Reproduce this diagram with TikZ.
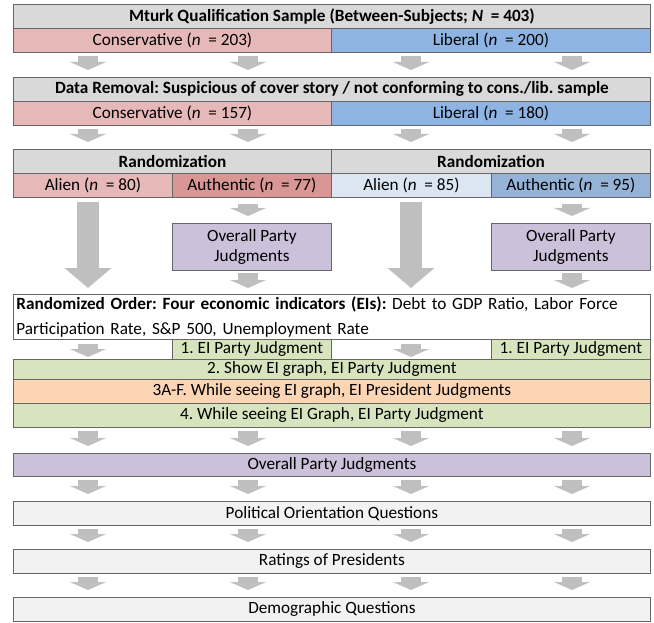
\documentclass[tikz,border=0pt]{standalone}
\usepackage{fontspec}
\setmainfont{Carlito}
\usetikzlibrary{arrows.meta}
\frenchspacing

\definecolor{hdrgrey}{HTML}{D9D9D9}
\definecolor{conspink}{HTML}{E6B9B8}
\definecolor{authpink}{HTML}{D99694}
\definecolor{libblue}{HTML}{8EB4E3}
\definecolor{alienblue}{HTML}{DCE6F2}
\definecolor{authblue}{HTML}{95B3D7}
\definecolor{judgpurple}{HTML}{CCC1DA}
\definecolor{eigreen}{HTML}{D7E4BD}
\definecolor{presorange}{HTML}{FCD5B5}
\definecolor{questgrey}{HTML}{F2F2F2}
\definecolor{arrowgrey}{HTML}{BFBFBF}

\tikzset{
    cell/.style={draw=black!60, line width=0.8pt, inner sep=0pt, anchor=north west,
        font=\fontsize{17.2}{20.5}\selectfont},
    blockarrow/.style={draw=arrowgrey, line width=20pt, -{Triangle[width=36pt,length=8pt]},
        shorten <=3pt, shorten >=7pt},
    longarrow/.style={draw=arrowgrey, line width=22pt, -{Triangle[width=46pt,length=20pt]},
        shorten <=4pt, shorten >=6pt}
}

\begin{document}
\begin{tikzpicture}[x=1pt, y=-1pt]
\useasboundingbox (0,0) rectangle (654,623);

% arrow columns
\coordinate (c1) at (88,0);
\coordinate (c2) at (248,0);
\coordinate (c3) at (411,0);
\coordinate (c4) at (572,0);

% sample
\node[cell, fill=hdrgrey, minimum width=637, minimum height=24] (mturk) at (13,4)
    {\textbf{Mturk Qualification Sample (Between-Subjects; \textit{N}~ = 403)}};
\node[cell, fill=conspink, minimum width=318, minimum height=24] (cons1) at (13,28)
    {Conservative (\textit{n}~ = 203)};
\node[cell, fill=libblue, minimum width=319, minimum height=24] (lib1) at (331,28)
    {Liberal (\textit{n}~ = 200)};

% data removal
\node[cell, fill=hdrgrey, minimum width=637, minimum height=24] (removal) at (13,77)
    {\textbf{Data Removal: Suspicious of cover story / not conforming to cons./lib. sample}};
\node[cell, fill=conspink, minimum width=318, minimum height=24] (cons2) at (13,101)
    {Conservative (\textit{n}~ = 157)};
\node[cell, fill=libblue, minimum width=319, minimum height=24] (lib2) at (331,101)
    {Liberal (\textit{n}~ = 180)};

% randomization
\node[cell, fill=hdrgrey, minimum width=318, minimum height=24] (randC) at (13,149)
    {\textbf{Randomization}};
\node[cell, fill=hdrgrey, minimum width=319, minimum height=24] (randL) at (331,149)
    {\textbf{Randomization}};
\node[cell, fill=conspink, minimum width=159, minimum height=24] (alienC) at (13,173)
    {Alien (\textit{n}~ = 80)};
\node[cell, fill=authpink, minimum width=159, minimum height=24] (authC) at (172,173)
    {Authentic (\textit{n}~ = 77)};
\node[cell, fill=alienblue, minimum width=160, minimum height=24] (alienL) at (331,173)
    {Alien (\textit{n}~ = 85)};
\node[cell, fill=authblue, minimum width=159, minimum height=24] (authL) at (491,173)
    {Authentic (\textit{n}~ = 95)};

\node[cell, fill=judgpurple, minimum width=159, minimum height=47, align=center] (partyC) at (172,223)
    {Overall Party\\Judgments};
\node[cell, fill=judgpurple, minimum width=159, minimum height=47, align=center] (partyL) at (491,223)
    {Overall Party\\Judgments};

% economic indicators
\node[cell, fill=white, minimum width=637, minimum height=45, inner xsep=3pt, text width=631,
    align=left, font=\fontsize{17.2}{24.5}\selectfont] (order) at (13,294)
    {\textbf{Randomized Order: Four economic indicators (EIs):} Debt to GDP Ratio, Labor Force\\
     Participation Rate, S\&P 500, Unemployment Rate};
\node[cell, fill=eigreen, minimum width=159, minimum height=20] (eiC) at (172,339)
    {1. EI Party Judgment};
\node[cell, fill=eigreen, minimum width=159, minimum height=20] (eiL) at (491,339)
    {1. EI Party Judgment};
\node[cell, fill=eigreen, minimum width=637, minimum height=20] (show) at (13,359)
    {2. Show EI graph, EI Party Judgment\hspace{22pt}};
\node[cell, fill=presorange, minimum width=637, minimum height=24] (seeing) at (13,379)
    {3A-F. While seeing EI graph, EI President Judgments};
\node[cell, fill=eigreen, minimum width=637, minimum height=24] (graph) at (13,403)
    {4. While seeing EI Graph, EI Party Judgment\hspace{28pt}};

% closing questions
\node[cell, fill=judgpurple, minimum width=637, minimum height=23] (overall) at (13,453)
    {Overall Party Judgments\hspace{28pt}};
\node[cell, fill=questgrey, minimum width=637, minimum height=24] (political) at (13,501)
    {Political Orientation Questions};
\node[cell, fill=questgrey, minimum width=637, minimum height=24] (ratings) at (13,549)
    {Ratings of Presidents};
\node[cell, fill=questgrey, minimum width=637, minimum height=24] (demog) at (13,597)
    {Demographic Questions};

% arrows
\foreach \up/\down in {cons1/removal, cons2/randC, graph/overall, overall/political,
    political/ratings, ratings/demog}
    \foreach \c in {c1,c2,c3,c4}
        \draw[blockarrow] (\up.south -| \c) -- (\down.north -| \c);

\draw[longarrow] (alienC.south -| c1) -- (order.north -| c1);
\draw[longarrow] (alienL.south -| c3) -- (order.north -| c3);
\draw[blockarrow, shorten <=6pt] (authC.south -| c2) -- (partyC.north -| c2);
\draw[blockarrow, shorten <=6pt] (authL.south -| c4) -- (partyL.north -| c4);
\draw[blockarrow, shorten <=2pt, shorten >=6pt] (partyC.south -| c2) -- (order.north -| c2);
\draw[blockarrow, shorten <=2pt, shorten >=6pt] (partyL.south -| c4) -- (order.north -| c4);
\draw[blockarrow, shorten <=4pt, shorten >=2pt] (order.south -| c1) -- (show.north -| c1);
\draw[blockarrow, shorten <=4pt, shorten >=2pt] (order.south -| c3) -- (show.north -| c3);
\end{tikzpicture}
\end{document}
